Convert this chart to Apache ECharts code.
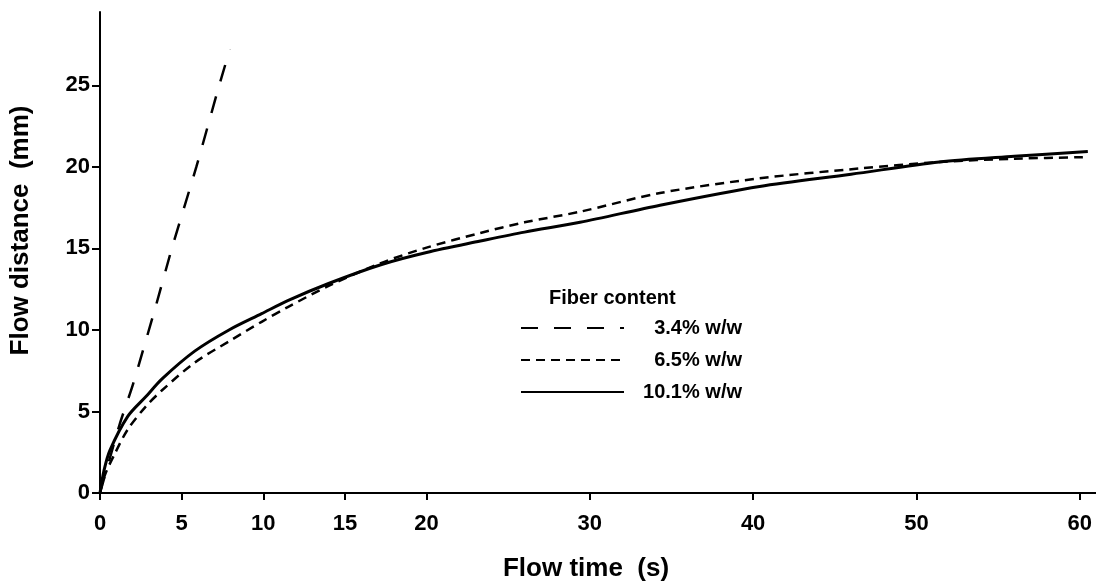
<!DOCTYPE html>
<html>
<head>
<meta charset="utf-8">
<script src="https://cdn.jsdelivr.net/npm/echarts@6/dist/echarts.min.js"></script>
<style>
  html, body { margin: 0; padding: 0; background: #fff; }
  #chart { width: 1096px; height: 586px; }
</style>
</head>
<body>
<div id="chart"></div>
<script>
// flow distance vs flow time
var time34 = [0, 1.2, 2.0, 3.4, 4.4, 5.9, 7.3, 7.95];
var dist34 = [0, 4.2, 6.6, 11.4, 15.0, 20.0, 25.0, 27.2];

var time65 = [0, 0.3, 0.9, 1.7, 2.8, 3.8, 5.8, 7.9, 9.9, 11.5, 14, 17.2, 20, 23.3, 26, 29.4, 34.3, 40.4, 46.5, 51.4, 56, 60.5];
var dist65 = [0, 1.1, 2.4, 3.9, 5.3, 6.3, 8.0, 9.3, 10.5, 11.4, 12.7, 14.1, 15.05, 15.95, 16.6, 17.25, 18.4, 19.3, 19.9, 20.3, 20.5, 20.6];

var time101 = [0, 0.25, 0.6, 1.7, 2.8, 3.8, 5.8, 7.9, 9.9, 11.5, 14, 17.2, 20, 23.3, 26, 29.4, 34.3, 40.4, 46, 51.4, 56, 60.5];
var dist101 = [0, 1.4, 2.6, 4.7, 5.9, 7.0, 8.7, 10.0, 11.0, 11.8, 12.85, 14.0, 14.75, 15.45, 16.0, 16.6, 17.65, 18.8, 19.55, 20.3, 20.65, 20.95];

var xTicks = [0, 5, 10, 15, 20, 30, 40, 50, 60];
var yTicks = [0, 5, 10, 15, 20, 25];

function pairs(xs, ys) {
    var out = [];
    for (var i = 0; i < xs.length; i++) {
        out.push([xs[i], ys[i]]);
    }
    return out;
}

var chart = echarts.init(document.getElementById('chart'));

var labelFont = {
    color: '#000',
    fontFamily: 'Liberation Sans, Arial, sans-serif',
    fontWeight: 'bold',
    fontSize: 22
};
var nameFont = {
    color: '#000',
    fontFamily: 'Liberation Sans Narrow, Arial Narrow, Liberation Sans, sans-serif',
    fontWeight: 'bold',
    fontSize: 26
};

var option = {
    backgroundColor: '#fff',
    animation: false,
    title: {
        text: 'Fiber content',
        left: 544,
        top: 283,
        textStyle: { color: '#000', fontFamily: 'Liberation Sans, Arial, sans-serif', fontWeight: 'bold', fontSize: 20 }
    },
    legend: {
        orient: 'vertical',
        left: 515,
        top: 313,
        itemWidth: 103,
        itemHeight: 14,
        itemGap: 12,
        itemStyle: { opacity: 0 },
        data: ['3.4% w/w', '6.5% w/w', '10.1% w/w'],
        formatter: function (name) { return '{a|' + name + '}'; },
        textStyle: {
            rich: {
                a: { width: 113, align: 'right', color: '#000', fontFamily: 'Liberation Sans, Arial, sans-serif', fontWeight: 'bold', fontSize: 20 }
            }
        }
    },
    grid: { left: 100, top: 12, right: 0, bottom: 93, containLabel: false, outerBoundsMode: 'none' },
    xAxis: {
        type: 'value',
        min: 0,
        max: 61,
        name: 'Flow time  (s)',
        nameLocation: 'middle',
        nameGap: 63,
        nameTextStyle: Object.assign({ padding: [0, 24, 0, 0] }, nameFont),
        axisLine: { lineStyle: { color: '#000', width: 2 } },
        axisTick: { show: true, customValues: xTicks, length: 7, lineStyle: { color: '#000', width: 2 } },
        axisLabel: Object.assign({ customValues: xTicks, margin: 20 }, labelFont),
        splitLine: { show: false }
    },
    yAxis: {
        type: 'value',
        min: 0,
        max: 29.5,
        name: 'Flow distance  (mm)',
        nameLocation: 'middle',
        nameGap: 66,
        nameTextStyle: Object.assign({ padding: [0, 0, 0, 44] }, nameFont),
        axisLine: { show: true, lineStyle: { color: '#000', width: 2 } },
        axisTick: { show: true, customValues: yTicks, length: 8, lineStyle: { color: '#000', width: 2 } },
        axisLabel: Object.assign({ customValues: yTicks, margin: 10 }, labelFont),
        splitLine: { show: false }
    },
    series: [
        {
            name: '3.4% w/w',
            type: 'line',
            data: pairs(time34, dist34),
            showSymbol: false,
            symbol: 'none',
            smooth: 0.2,
            itemStyle: { color: '#000' },
            lineStyle: { color: '#000', width: 2.5, type: [17, 16] }
        },
        {
            name: '6.5% w/w',
            type: 'line',
            data: pairs(time65, dist65),
            showSymbol: false,
            symbol: 'none',
            smooth: 0.3,
            itemStyle: { color: '#000' },
            lineStyle: { color: '#000', width: 2.5, type: [9, 6] }
        },
        {
            name: '10.1% w/w',
            type: 'line',
            data: pairs(time101, dist101),
            showSymbol: false,
            symbol: 'none',
            smooth: 0.3,
            itemStyle: { color: '#000' },
            lineStyle: { color: '#000', width: 3 }
        }
    ]
};

chart.setOption(option);
</script>
</body>
</html>
